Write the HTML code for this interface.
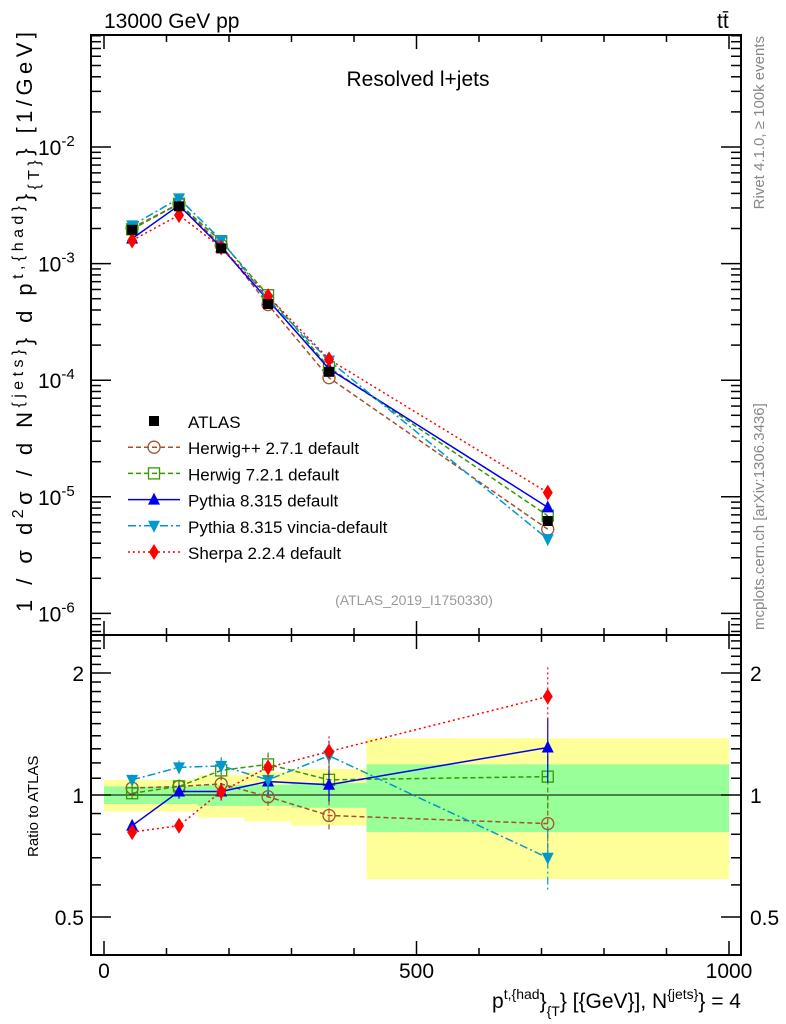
<!DOCTYPE html>
<html><head><meta charset="utf-8"><style>
html,body{margin:0;padding:0;background:#fff;}
svg{display:block;font-family:"Liberation Sans",sans-serif;}
</style></head><body>
<svg id="c" width="786" height="1024" viewBox="0 0 786 1024" xmlns="http://www.w3.org/2000/svg">
<g id="g"></g>
</svg>
<script>
const binEdges=[0,90,150,225,300,420,1000];
const binCenters=[45,120,187.5,262.5,360,710];
const atlas=[1.95e-3,3.1e-3,1.35e-3,4.5e-4,1.18e-4,6.2e-6];
const greenErr=[0.05,0.05,0.06,0.06,0.07,0.19];
const yellowErr=[0.09,0.09,0.12,0.14,0.16,0.38];
const rHerwigpp=[1.04,1.05,1.065,0.99,0.89,0.85];
const rHerwig7=[1.01,1.05,1.15,1.19,1.09,1.11];
const rPythia=[0.84,1.02,1.02,1.08,1.06,1.31];
const rVincia=[1.09,1.17,1.18,1.09,1.25,0.70];
const rSherpa=[0.81,0.84,1.02,1.17,1.28,1.75];
const rErrLast=[0.03,0.04,0.05,0.07,0.09,0.18];
const legendLabels=["ATLAS","Herwig++ 2.7.1 default","Herwig 7.2.1 default","Pythia 8.315 default","Pythia 8.315 vincia-default","Sherpa 2.2.4 default"];
const mainTicks=[-2,-3,-4,-5,-6];
const ratioTicks=[2,1,0.5];
const xTicks=[0,500,1000];

const NS="http://www.w3.org/2000/svg";
const g=document.getElementById('g');
function el(t,a,p){const e=document.createElementNS(NS,t);for(const k in a)e.setAttribute(k,a[k]);(p||g).appendChild(e);return e;}
const L=91,R=741,T=35,M=635,B=955;
const X=v=>104+v*0.625;
const Y=v=>147-(Math.log10(v)+2)*116.6;
const YR=v=>795-Math.log2(v)*122;

for(let i=0;i<6;i++){
 const y=el('rect',{x:X(binEdges[i]),width:X(binEdges[i+1])-X(binEdges[i]),y:YR(1+yellowErr[i]),height:YR(1-yellowErr[i])-YR(1+yellowErr[i]),fill:'#ffff99'});
 
 
}
for(let i=0;i<6;i++){
 const y=el('rect',{x:X(binEdges[i]),width:X(binEdges[i+1])-X(binEdges[i]),y:YR(1+greenErr[i]),height:YR(1-greenErr[i])-YR(1+greenErr[i]),fill:'#99ff99'});
 
 
}
el('line',{x1:L,x2:R,y1:YR(1),y2:YR(1),stroke:'#000','stroke-width':1});

for(const [y1,y2] of [[T,M],[M,B]]){
 const f=el('rect',{x:L,y:y1,width:R-L,height:y2-y1,fill:'none',stroke:'#000','stroke-width':2});
 
 
}
for(let v=0;v<=1000;v+=100){
 const big=v%500===0, len=big?14:7;
 for(const [yb,yt] of [[M,T],[B,M]]){
  el('line',{x1:X(v),x2:X(v),y1:yb,y2:yb-len,stroke:'#000','stroke-width':1.5});
  el('line',{x1:X(v),x2:X(v),y1:yt,y2:yt+len,stroke:'#000','stroke-width':1.5});
 }
}
for(const v of xTicks){const t=el('text',{x:X(v),y:978,'font-size':21,'text-anchor':'middle'});t.textContent=v;
 }
for(let d=-7;d<=-1;d++){for(let m=1;m<10;m++){const v=m*Math.pow(10,d);const y=Y(v);if(y<T||y>M)continue;const len=m===1?20:10;
 el('line',{x1:L,x2:L+len,y1:y,y2:y,stroke:'#000','stroke-width':1.5});el('line',{x1:R,x2:R-len,y1:y,y2:y,stroke:'#000','stroke-width':1.5});}}
for(const d of mainTicks){const t=el('text',{x:38,y:Y(Math.pow(10,d))+8,'font-size':21});t.innerHTML='10<tspan dy="-9" font-size="15">'+d+'</tspan>';
 }
for(let v=0.4;v<2.5;v+=0.1){const y=YR(v);if(y<M||y>B)continue;const big=[0.5,1,2].some(k=>Math.abs(k-v)<1e-6);const len=big?20:10;
 el('line',{x1:L,x2:L+len,y1:y,y2:y,stroke:'#000','stroke-width':1.5});el('line',{x1:R,x2:R-len,y1:y,y2:y,stroke:'#000','stroke-width':1.5});}
for(const v of ratioTicks){const y=YR(v)+8;
 const a=el('text',{x:84,y:y,'font-size':21,'text-anchor':'end'});a.textContent=v;
 const b=el('text',{x:750,y:y,'font-size':21});b.textContent=v;}

function marker(type,x,y,c){
 if(type==='sq-f')return el('rect',{x:x-5,y:y-5,width:10,height:10,fill:c});
 if(type==='circ')return el('circle',{cx:x,cy:y,r:6,fill:'none',stroke:c,'stroke-width':1.3});
 if(type==='sq')return el('rect',{x:x-5.5,y:y-5.5,width:11,height:11,fill:'none',stroke:c,'stroke-width':1.3});
 if(type==='up')return el('polygon',{points:`${x-6},${y+5} ${x+6},${y+5} ${x},${y-7}`,fill:c});
 if(type==='down')return el('polygon',{points:`${x-6},${y-5} ${x+6},${y-5} ${x},${y+7}`,fill:c});
 if(type==='dia')return el('polygon',{points:`${x},${y-8} ${x+5},${y} ${x},${y+8} ${x-5},${y}`,fill:c});
}
const series=[
 {name:'herwigpp',r:rHerwigpp,c:'#a0522d',dash:'5,3',m:'circ'},
 {name:'herwig7',r:rHerwig7,c:'#339900',dash:'5,3',m:'sq'},
 {name:'pythia',r:rPythia,c:'#0000ee',dash:'',m:'up'},
 {name:'vincia',r:rVincia,c:'#0099cc',dash:'8,3,2,3',m:'down'},
 {name:'sherpa',r:rSherpa,c:'#ff0000',dash:'2,3',m:'dia'}];
for(const s of series){
 const main=binCenters.map((x,i)=>[X(x),Y(atlas[i]*s.r[i])]);
 const rat=binCenters.map((x,i)=>[X(x),YR(s.r[i])]);
 for(const pts of [main,rat]){
  const p=el('polyline',{points:pts.map(p=>p.join(',')).join(' '),fill:'none',stroke:s.c,'stroke-width':1.5,'stroke-dasharray':s.dash});
  
 }
 binCenters.forEach((x,i)=>{
  const e=rErrLast[i];
  el('line',{x1:X(x),x2:X(x),y1:YR(s.r[i]*(1+e)),y2:YR(s.r[i]*(1-e)),stroke:s.c,'stroke-width':1.2,'stroke-dasharray':s.dash});
  const m1=marker(s.m,X(x),Y(atlas[i]*s.r[i]),s.c);
  const m2=marker(s.m,X(x),YR(s.r[i]),s.c);
 });
}
binCenters.forEach((x,i)=>{const m=marker('sq-f',X(x),Y(atlas[i]),'#000');});

const legM=['sq-f','circ','sq','up','down','dia'];
const legC=['#000','#a0522d','#339900','#0000ee','#0099cc','#ff0000'];
const legD=['','5,3','5,3','','8,3,2,3','2,3'];
legendLabels.forEach((lab,i)=>{const y=421+i*26.2;
 if(i>0)el('line',{x1:128,x2:180,y1:y,y2:y,stroke:legC[i],'stroke-width':1.5,'stroke-dasharray':legD[i]});
 const m=marker(legM[i],154,y,legC[i]);
 const t=el('text',{x:188,y:y+7,'font-size':17});t.textContent=lab;
 });
</script>
<svg width="786" height="1024" style="position:absolute;left:0;top:0;font-family:'Liberation Sans',sans-serif;">
<text x="104" y="28" font-size="21">13000 GeV pp</text>
<text x="717" y="28" font-size="21">tt̄</text>
<text x="418" y="86" font-size="21" text-anchor="middle">Resolved l+jets</text>
<text x="414" y="605" font-size="14" fill="#999" text-anchor="middle">(ATLAS_2019_I1750330)</text>
<text transform="translate(764,36) rotate(-90)" font-size="15" fill="#888" text-anchor="end">Rivet 4.1.0, ≥ 100k events</text>
<text transform="translate(764,630) rotate(-90)" font-size="15" fill="#888">mcplots.cern.ch [arXiv:1306.3436]</text>
<text transform="translate(32,612) rotate(-90)" font-size="22" textLength="580" lengthAdjust="spacing">1 / σ d<tspan dy="-9" font-size="16">2</tspan><tspan dy="9">σ / d N</tspan><tspan dy="-9" font-size="16">{jets}</tspan><tspan dy="9">} d p</tspan><tspan dy="-9" font-size="16">t,{had}</tspan><tspan dy="9">}</tspan><tspan dy="7" font-size="16">{T}</tspan><tspan dy="-7">} [1/GeV]</tspan></text>
<text transform="translate(38,857) rotate(-90)" font-size="15">Ratio to ATLAS</text>
<text x="741" y="1008" font-size="21" text-anchor="end">p<tspan dy="-9" font-size="14">t,{had</tspan><tspan dy="9">}</tspan><tspan dy="8" font-size="14">{T</tspan><tspan dy="-8">} [{GeV}], N</tspan><tspan dy="-9" font-size="14">{jets}</tspan><tspan dy="9">} = 4</tspan></text>
</svg>
</body></html>
